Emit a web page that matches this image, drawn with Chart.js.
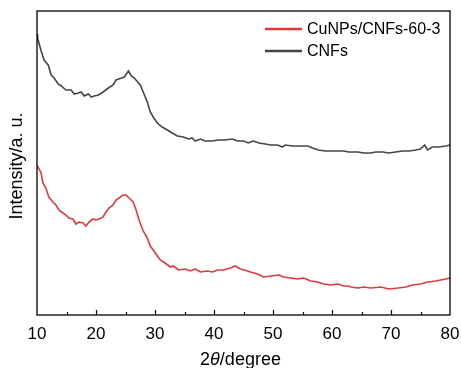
<!DOCTYPE html>
<html lang="en">
<head>
<meta charset="UTF-8" />
<title>XRD</title>
<script src="https://cdn.jsdelivr.net/npm/chart.js@4.4.1/dist/chart.umd.min.js"></script>
<style>
  html, body { margin:0; padding:0; background:#ffffff; }
  #wrap { width:461px; height:368px; position:relative; }
</style>
</head>
<body>
<div id="wrap"><canvas id="xrd"></canvas></div>
<script>
// 2theta (degree) and intensity (a.u.)
const cnfAngle = [10.0,10.1,10.7,11.2,11.9,12.4,12.9,13.6,14.1,14.9,15.8,16.3,17.0,17.5,18.0,18.7,19.2,19.7,20.4,21.2,
  22.1,22.9,23.4,24.3,24.8,25.5,26.0,26.5,27.2,27.5,28.0,28.7,29.2,29.7,30.4,31.2,32.1,32.9,33.8,34.8,
  35.7,36.3,36.8,37.7,38.5,39.7,40.7,41.9,43.1,44.0,45.0,45.8,46.2,46.7,47.6,48.7,49.6,50.8,51.6,52.1,
  53.3,54.3,55.9,56.7,57.7,58.9,60.1,61.1,62.0,62.8,64.4,65.4,66.6,67.4,68.6,69.6,70.8,72.0,73.0,74.2,
  75.0,75.7,76.2,77.0,78.1,79.3,80.0];
const cnfValue = [281,277,264,255,250,240,237,231,229,225,225,221,222,223,219,221,218,219,220,223,
  227,230,235,237,238,244,239,237,232,230,223,213,203,198,192,188,185,182,179,178,
  176,177,174,176,174,174,175,175,176,174,174,172,173,174,172,171,170,170,168,170,
  169,169,169,167,165,164,164,164,164,163,163,162,162,163,163,162,163,164,164,165,
  166,170,165,168,168,169,170];

const cuAngle = [10.0,10.1,10.7,11.0,11.5,12.0,12.7,13.2,13.7,14.4,14.9,15.4,16.1,16.6,17.1,17.8,18.3,18.8,19.5,20.0,
  20.5,21.2,21.7,22.2,22.9,23.4,23.9,24.6,25.1,25.6,26.3,26.8,27.3,28.0,28.7,29.2,29.7,30.4,30.9,31.7,
  32.6,33.1,34.0,35.1,36.0,36.8,37.7,38.9,39.7,40.6,41.6,42.8,43.6,44.5,45.7,46.2,47.4,48.4,49.6,51.0,
  51.8,53.0,54.2,55.2,56.4,57.6,58.6,59.8,61.0,62.0,62.8,63.2,64.4,65.4,66.6,68.3,69.6,71.2,72.5,73.7,
  75.0,76.2,77.6,78.4,79.3,80.0];
const cuValue = [150,150,142,132,127,118,113,110,105,102,100,97,96,91,93,92,89,93,96,95,
  96,98,103,107,110,115,117,120,120,117,113,105,95,84,77,69,65,59,55,52,
  48,49,45,46,44,46,43,44,43,45,45,47,49,46,44,43,41,38,39,40,
  38,37,36,37,34,33,31,30,31,29,29,28,27,28,27,28,26,27,28,30,
  31,33,34,35,36,37];

const seriesNames = ['CuNPs/CNFs-60-3', 'CNFs'];
const seriesColors = ['#e2383e', '#454545'];
const xTicks = [10, 20, 30, 40, 50, 60, 70, 80];

const FONT = '"Liberation Sans", Arial, Helvetica, sans-serif';

function pairs(xs, ys) {
  return xs.map((x, i) => ({ x: x, y: ys[i] }));
}

// frame, inward ticks, axis titles and legend
const decor = {
  id: 'decor',
  afterDraw(chart) {
    const ctx = chart.ctx;
    const a = chart.chartArea;
    const xs = chart.scales.x;
    ctx.save();
    ctx.strokeStyle = '#000';
    ctx.lineWidth = 1.3;
    ctx.strokeRect(a.left, a.top, a.right - a.left, a.bottom - a.top);
    // ticks pointing into the plot
    ctx.lineWidth = 1.2;
    for (let v = 15; v < 80; v += 5) {
      const px = Math.round(xs.getPixelForValue(v)) + 0.5;
      const len = (v % 10 === 0) ? 5 : 3;
      ctx.beginPath();
      ctx.moveTo(px, a.bottom);
      ctx.lineTo(px, a.bottom - len);
      ctx.stroke();
    }
    // x title: 2θ/degree with italic theta
    ctx.fillStyle = '#000';
    ctx.textBaseline = 'alphabetic';
    const f1 = '18px ' + FONT, f2 = 'italic 18px ' + FONT;
    const parts = [['2', f1], ['\u03B8', f2], ['/degree', f1]];
    let w = 0;
    parts.forEach(p => { ctx.font = p[1]; w += ctx.measureText(p[0]).width; });
    let x0 = (a.left + a.right) / 2 - w / 2 - 3;
    parts.forEach(p => { ctx.font = p[1]; ctx.fillText(p[0], x0, 365); x0 += ctx.measureText(p[0]).width; });
    // y title
    ctx.save();
    ctx.translate(22, (a.top + a.bottom) / 2 + 3);
    ctx.rotate(-Math.PI / 2);
    ctx.font = '18px ' + FONT;
    ctx.textAlign = 'center';
    ctx.fillText('Intensity/a. u.', 0, 0);
    ctx.restore();
    // legend
    ctx.font = '16px ' + FONT;
    ctx.textBaseline = 'middle';
    ctx.textAlign = 'left';
    const ly = [29, 51];
    seriesNames.forEach((name, i) => {
      ctx.strokeStyle = seriesColors[i];
      ctx.lineWidth = 2.5;
      ctx.beginPath();
      ctx.moveTo(265, ly[i]);
      ctx.lineTo(302, ly[i]);
      ctx.stroke();
      ctx.fillStyle = '#000';
      ctx.fillText(name, 307, ly[i] + 1);
    });
    ctx.restore();
  }
};

new Chart(document.getElementById('xrd'), {
  type: 'line',
  data: {
    datasets: [
      { label: seriesNames[0], data: pairs(cuAngle, cuValue), borderColor: seriesColors[0], borderWidth: 1.6, pointRadius: 0, tension: 0 },
      { label: seriesNames[1], data: pairs(cnfAngle, cnfValue), borderColor: seriesColors[1], borderWidth: 1.6, pointRadius: 0, tension: 0 }
    ]
  },
  options: {
    responsive: true,
    maintainAspectRatio: false,
    animation: false,
    layout: { padding: { top: 11, right: 11, left: 0, bottom: 0 } },
    plugins: { legend: { display: false }, tooltip: { enabled: false } },
    scales: {
      x: {
        type: 'linear', min: 10, max: 80,
        afterBuildTicks: s => { s.ticks = xTicks.map(v => ({ value: v })); },
        afterFit: s => { s.height = 53; },
        grid: { display: false },
        border: { display: false },
        ticks: { color: '#000', font: { family: FONT, size: 17 }, padding: 1, maxRotation: 0 }
      },
      y: {
        min: 0, max: 304,
        afterFit: s => { s.width = 37; },
        grid: { display: false },
        border: { display: false },
        ticks: { display: false }
      }
    }
  },
  plugins: [decor]
});
</script>
</body>
</html>
